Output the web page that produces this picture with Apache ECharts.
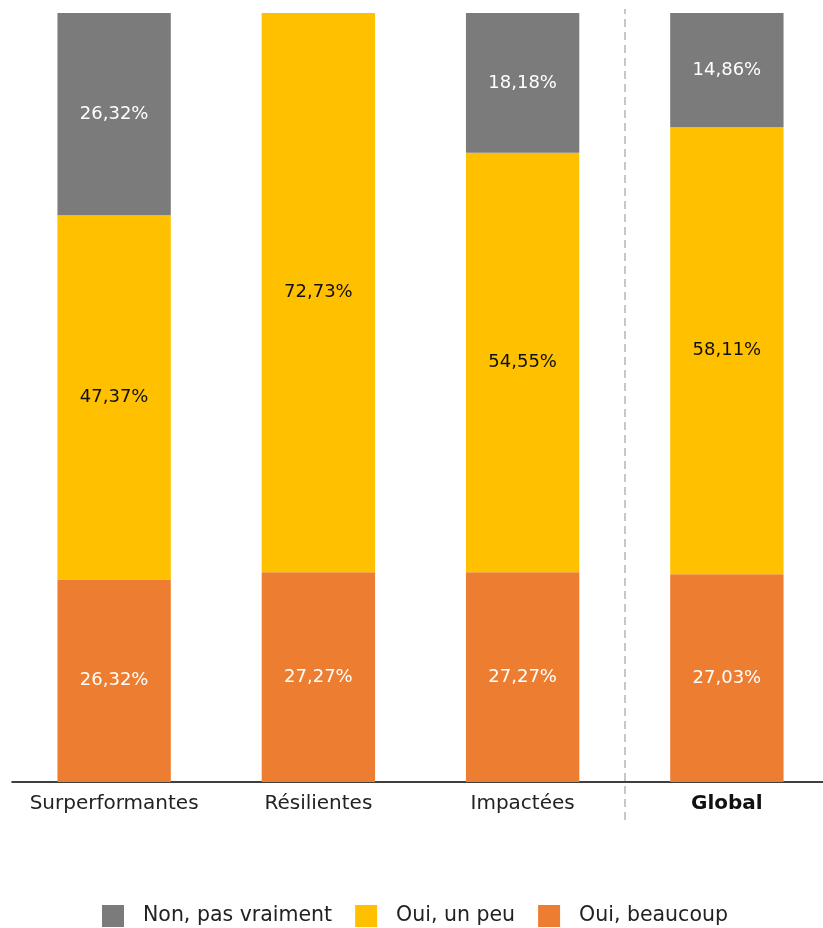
<!DOCTYPE html>
<html><head><meta charset="utf-8">
<script src="https://cdn.jsdelivr.net/npm/echarts@6/dist/echarts.min.js"></script>
<style>html,body{margin:0;padding:0;background:#fff;overflow:hidden}#c{width:840px;height:928px}</style>
</head><body><div id="c"></div>
<script>
const categories = ['Surperformantes', 'Résilientes', 'Impactées', 'Global'];
const nonPasVraiment = [26.32, 0, 18.18, 14.86];
const ouiUnPeu = [47.37, 72.73, 54.55, 58.11];
const ouiBeaucoup = [26.32, 27.27, 27.27, 27.03];
const seriesNames = ['Non, pas vraiment', 'Oui, un peu', 'Oui, beaucoup'];
const separatorAt = [3];

const FONT = '"DejaVu Sans", sans-serif';
const fmt = p => p.value ? p.value.toFixed(2).replace('.', ',') + '%' : '';
const lbl = color => ({show: true, position: 'inside', color: color, fontSize: 18, fontFamily: FONT, formatter: fmt});

const chart = echarts.init(document.getElementById('c'));
chart.setOption({
  animation: false,
  grid: [
    {left: 12, width: 817, top: 13, height: 769, containLabel: false},
    {left: 12, width: 817, top: 9, height: 811, containLabel: false}
  ],
  legend: {
    top: 905, left: 102, padding: 0,
    data: seriesNames,
    itemWidth: 22, itemHeight: 22, itemGap: 23,
    icon: 'rect',
    textStyle: {fontSize: 20.5, color: '#222', fontFamily: FONT, padding: [0, 0, 0, 14]}
  },
  xAxis: [
    {type: 'category', gridIndex: 0, data: categories,
     axisLine: {lineStyle: {color: '#000', width: 1.5}},
     axisTick: {show: false},
     axisLabel: {interval: 0, fontSize: 20, color: '#222', fontFamily: FONT, margin: 12,
       formatter: v => v === 'Global' ? '{b|' + v + '}' : v,
       rich: {b: {fontWeight: 'bold', fontSize: 20, color: '#111', fontFamily: FONT}}}},
    {type: 'value', gridIndex: 1, min: 0, max: 4, show: false}
  ],
  yAxis: [
    {type: 'value', gridIndex: 0, min: 0, max: 100, show: false},
    {type: 'value', gridIndex: 1, min: 0, max: 1, show: false}
  ],
  series: [
    {name: seriesNames[2], type: 'bar', stack: 's', data: ouiBeaucoup, barWidth: '55.5%',
     itemStyle: {color: '#ED7D31'}, label: lbl('#fff')},
    {name: seriesNames[1], type: 'bar', stack: 's', data: ouiUnPeu, barWidth: '55.5%',
     itemStyle: {color: '#FFC000'}, label: lbl('#111')},
    {name: seriesNames[0], type: 'bar', stack: 's', data: nonPasVraiment, barWidth: '55.5%',
     itemStyle: {color: '#7B7B7B'}, label: lbl('#fff')},
    {type: 'scatter', xAxisIndex: 1, yAxisIndex: 1, data: [], silent: true,
     markLine: {symbol: 'none', silent: true, label: {show: false},
       lineStyle: {color: '#c8c8c8', type: [8, 5], width: 2},
       data: separatorAt.map(x => ({xAxis: x}))}}
  ]
});
</script></body></html>
